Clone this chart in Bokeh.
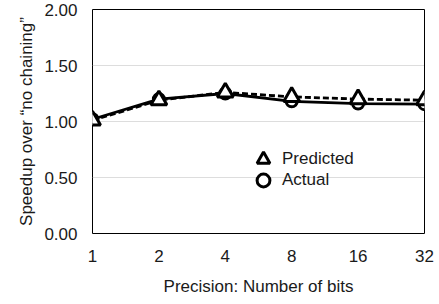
from bokeh.plotting import figure
from bokeh.models import Range1d, FixedTicker, Legend, LegendItem, ColumnDataSource
from bokeh.embed import file_html
from bokeh.resources import INLINE

bits = ["1", "2", "4", "8", "16", "32"]
predicted = [1.01, 1.19, 1.26, 1.22, 1.20, 1.19]
actual = [1.02, 1.20, 1.25, 1.18, 1.16, 1.155]
y_ticks = [0.0, 0.5, 1.0, 1.5, 2.0]

FONT = "Liberation Sans"
TXT = "#1a1a1a"

xs = list(range(len(bits)))
src = ColumnDataSource(dict(x=xs, pred=predicted, act=actual))

p = figure(width=439, height=304, output_backend="svg", toolbar_location=None,
           x_range=Range1d(0, len(bits) - 1), y_range=Range1d(y_ticks[0], y_ticks[-1]),
           min_border_left=92, min_border_right=15, min_border_top=9, min_border_bottom=71)
p.outline_line_color = "black"
p.outline_line_width = 1
p.background_fill_color = "white"
p.border_fill_color = "white"

p.xgrid.grid_line_color = None
p.ygrid.grid_line_color = "#bbbbbb"
p.ygrid.grid_line_dash = "1 1"
p.ygrid.grid_line_width = 1

for ax in (p.xaxis[0], p.yaxis[0]):
    ax.axis_line_color = None
    ax.major_tick_line_color = None
    ax.minor_tick_line_color = None
    ax.major_tick_out = 0
    ax.major_tick_in = 0
    ax.major_label_text_font = FONT
    ax.major_label_text_font_size = "17px"
    ax.major_label_text_color = TXT
    ax.axis_label_text_font = FONT
    ax.axis_label_text_font_size = "17px"
    ax.axis_label_text_font_style = "normal"
    ax.axis_label_text_color = TXT

p.xaxis.ticker = FixedTicker(ticks=xs)
p.xaxis.major_label_overrides = {i: b for i, b in zip(xs, bits)}
p.xaxis.axis_label = "Precision: Number of bits"
p.xaxis.major_label_standoff = 16
p.xaxis.axis_label_standoff = 12

p.yaxis.ticker = FixedTicker(ticks=y_ticks)
p.yaxis.major_label_overrides = {t: f"{t:.2f}" for t in y_ticks}
p.yaxis.axis_label = "Speedup over \u201cno chaining\u201d"
p.yaxis.major_label_standoff = 15
p.yaxis.axis_label_standoff = 5

p.line("x", "act", source=src, line_color="black", line_width=2.8)
p.line("x", "pred", source=src, line_color="black", line_width=2.8, line_dash="6 3")
circ = p.scatter("x", "act", source=src, marker="circle", size=11,
                 fill_color="white", line_color="black", line_width=3)
tri = p.scatter("x", "pred", source=src, marker="triangle", size=16,
                fill_color="white", line_color="black", line_width=3)

legend_style = dict(padding=0, margin=0, spacing=0,
                    glyph_width=32, glyph_height=32, label_standoff=3,
                    label_text_font=FONT, label_text_font_size="17px", label_text_color=TXT,
                    border_line_color=None, background_fill_alpha=0)
legend_pred = Legend(items=[LegendItem(label="Predicted", renderers=[tri])],
                     location=(155, 58), **legend_style)
legend_act = Legend(items=[LegendItem(label="Actual", renderers=[circ])],
                    location=(155, 37), **legend_style)
p.add_layout(legend_pred, "center")
p.add_layout(legend_act, "center")

open("out.html", "w").write(file_html(p, INLINE))
